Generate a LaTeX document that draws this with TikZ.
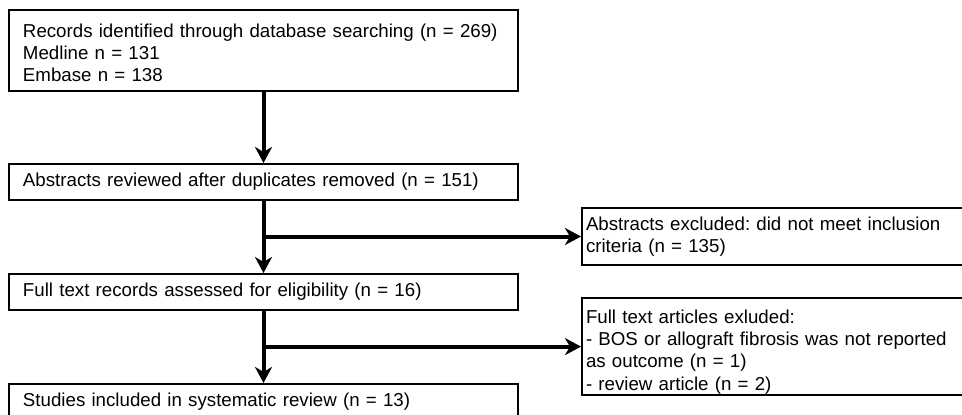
\documentclass[tikz,border=0pt]{standalone}
\usepackage{fontspec}
\setmainfont{Liberation Sans}
\usetikzlibrary{arrows.meta,calc}
\frenchspacing
\begin{document}
\begin{tikzpicture}[x=1pt,y=1pt,
  txt/.style={font=\fontsize{18.7}{22.4}\selectfont},
  lbox/.style={txt, draw, line width=2pt, anchor=north west, inner xsep=14pt, inner ysep=0pt, text width=481pt, align=left},
  rbox/.style={txt, draw, line width=2pt, anchor=north west, inner xsep=4pt, inner ysep=0pt, text width=375pt, align=left},
  arr/.style={line width=4pt, -{Stealth[length=16pt,width=17pt,inset=5pt]}}]
\useasboundingbox (0,0) rectangle (962,-415);
\clip (0,0) rectangle (962,-415);
\node[lbox] (b1) at (8,-9) {\rule{0pt}{27pt}Records identified through database searching (n = 269)\\Medline n = 131\\Embase n = 138\rule[-9.5pt]{0pt}{9.5pt}};
\node[lbox, minimum height=36pt] (b2) at (8,-163) {Abstracts reviewed after duplicates removed (n = 151)};
\node[lbox, minimum height=36pt] (b3) at (8,-273) {Full text records assessed for eligibility (n = 16)};
\node[lbox, minimum height=36pt] (b4) at (8,-383) {Studies included in systematic review (n = 13)};
\node[rbox, minimum height=57pt] (b5) at (581,-207) {Abstracts excluded: did not meet inclusion\\criteria (n = 135)};
\node[rbox] (b6) at (581,-297) {\rule{0pt}{25pt}Full text articles exluded:\\- BOS or allograft fibrosis was not reported\\as outcome (n = 1)\\- review article (n = 2)\rule[-5pt]{0pt}{5pt}};
\draw[arr] (b1.south) -- (b2.north);
\draw[arr] (b2.south) -- (b3.north);
\draw[arr] (b3.south) -- (b4.north);
\draw[arr] (b2.south |- b5.west) -- (b5.west);
\draw[arr] (b3.south |- b6.west) -- (b6.west);
\end{tikzpicture}
\end{document}
